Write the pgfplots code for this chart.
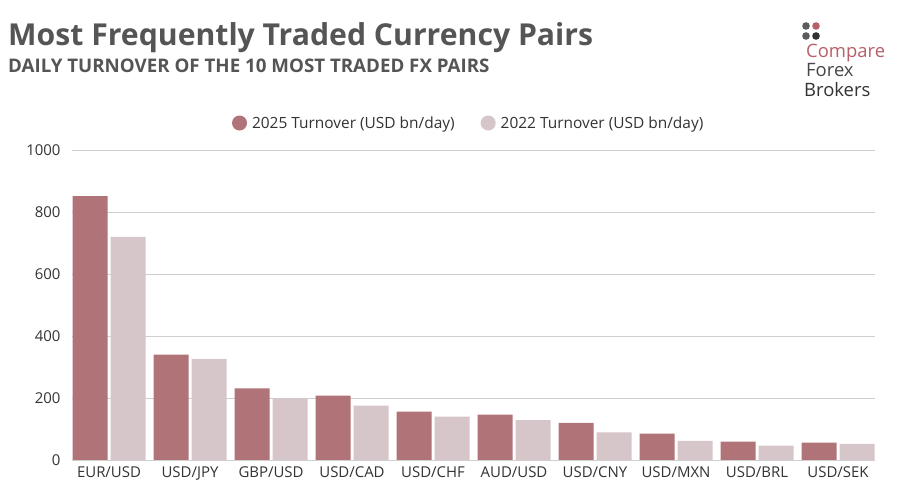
\documentclass[border=0pt]{standalone}
\usepackage{pgfplots}
\pgfplotsset{compat=1.18}
\usepackage{fontspec}
\setmainfont{Open Sans}
\newfontfamily\titlefont{Open Sans}
\definecolor{cA}{HTML}{B07378}
\definecolor{cB}{HTML}{D6C5C9}
\definecolor{titlegray}{HTML}{555555}
\definecolor{txt}{HTML}{333333}
\definecolor{gridc}{HTML}{CFCFCF}
\definecolor{logorose}{HTML}{B8606A}
\begin{document}
\begin{tikzpicture}[x=1bp,y=1bp]
\path[fill=white] (0,0) rectangle (900,500);
\node[anchor=base west, inner sep=0, text=titlegray, font=\titlefont\bfseries\fontsize{30.3}{30.3}\selectfont] at (8,454) {Most Frequently Traded Currency Pairs};
\node[anchor=base west, inner sep=0, text=titlegray, font=\titlefont\bfseries\fontsize{18.8}{18.8}\selectfont] at (8,427) {DAILY TURNOVER OF THE 10 MOST TRADED FX PAIRS};
% logo
\fill[txt!80] (806,474) circle (3.8);
\fill[logorose] (816,474) circle (3.8);
\fill[txt!80] (806,464) circle (3.8);
\fill[txt] (816,464) circle (3.8);
\node[anchor=base west, inner sep=0, text=logorose, font=\fontsize{18.5}{18.5}\selectfont] at (806,442) {Compare};
\node[anchor=base west, inner sep=0, text=txt!90, font=\fontsize{18.5}{18.5}\selectfont] at (806,423) {Forex};
\node[anchor=base west, inner sep=0, text=txt, font=\fontsize{18.5}{18.5}\selectfont] at (804,403) {Brokers};
\begin{axis}[
  at={(72bp,40bp)}, anchor=south west,
  scale only axis, width=803bp, height=310bp,
  xmin=-0.457, xmax=9.457, ymin=0, ymax=1000,
  ybar=3bp, bar width=35bp,
  xtick=data,
  xticklabels={EUR/USD,USD/JPY,GBP/USD,USD/CAD,USD/CHF,AUD/USD,USD/CNY,USD/MXN,USD/BRL,USD/SEK},
  ytick={0,200,400,600,800,1000},
  yticklabel style={/pgf/number format/1000 sep={}, xshift=-8bp},
  major tick length=0pt,
  axis line style={draw=none},
  ymajorgrids, grid style={gridc, line width=0.8bp},
  tick label style={text=txt, font=\fontsize{15}{15}\selectfont},
  /pgf/number format/assume math mode=true,
  xticklabel style={yshift=-3bp},
  legend columns=2,
  legend style={draw=none, fill=none, at={(0.494,1.087)}, anchor=center,
    font=\fontsize{15.5}{15.5}\selectfont, text=txt,
    /tikz/every odd column/.append style={column sep=3bp},
    /tikz/every even column/.append style={column sep=24bp}},
]
\addplot[fill=cA, draw=none, legend image code/.code={\fill[cA] (3bp,0bp) circle (7.5bp);}] coordinates {
(0,851) (1,340) (2,231) (3,208) (4,156) (5,146) (6,120) (7,85) (8,59) (9,56)};
\addlegendentry{2025 Turnover (USD bn/day)}
\addplot[fill=cB, draw=none, legend image code/.code={\fill[cB] (3bp,0bp) circle (7.5bp);}] coordinates {
(0,720) (1,326) (2,199) (3,175) (4,140) (5,129) (6,89) (7,62) (8,46) (9,52)};
\addlegendentry{2022 Turnover (USD bn/day)}
\end{axis}
\end{tikzpicture}
\end{document}
